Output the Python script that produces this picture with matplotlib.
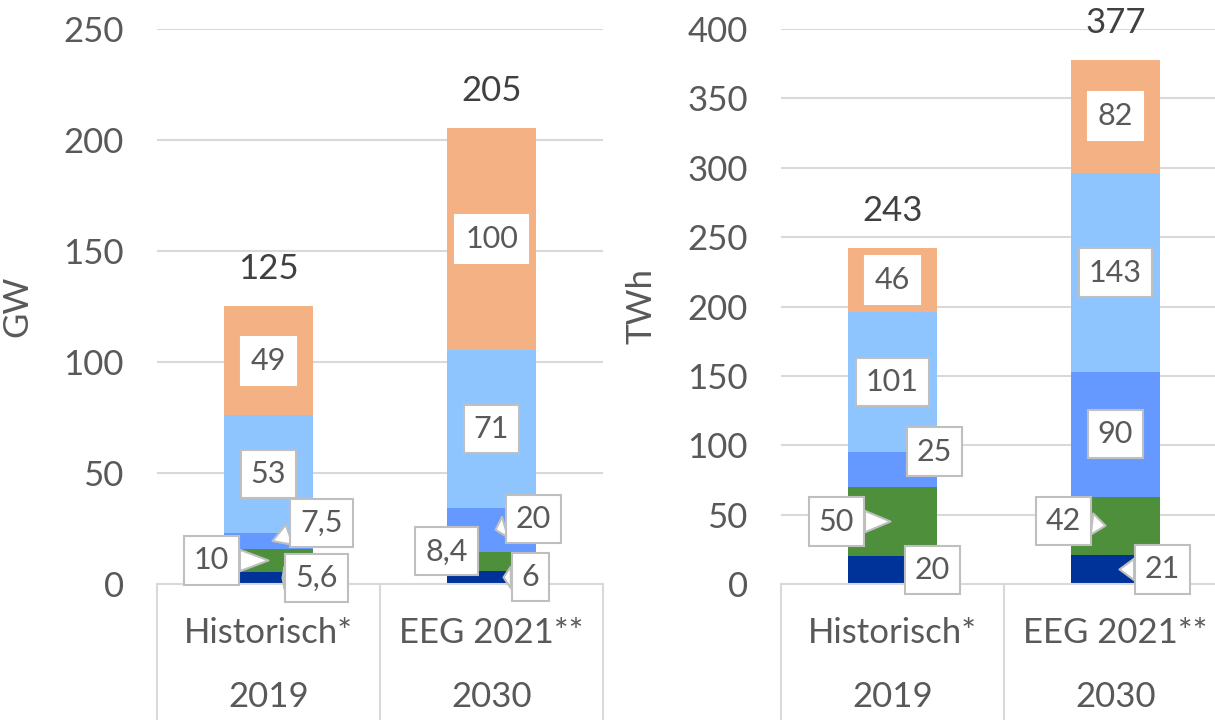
import matplotlib
matplotlib.use("Agg")
import matplotlib.pyplot as plt
import matplotlib.transforms as mtransforms

plt.rcParams['font.family'] = ['Lato', 'DejaVu Sans']

# ---------------- data ----------------
cat_top = ["Historisch*", "EEG 2021**"]
cat_bottom = ["2019", "2030"]

gw_darkblue = [5.6, 6]
gw_green = [10, 8.4]
gw_blue = [7.5, 20]
gw_lightblue = [53, 71]
gw_salmon = [49, 100]
gw_totals = ["125", "205"]
gw_labels = [["5,6", "10", "7,5", "53", "49"],
             ["6", "8,4", "20", "71", "100"]]

twh_darkblue = [20, 21]
twh_green = [50, 42]
twh_blue = [25, 90]
twh_lightblue = [101, 143]
twh_salmon = [46, 82]
twh_totals = ["243", "377"]
twh_labels = [["20", "50", "25", "101", "46"],
              ["21", "42", "90", "143", "82"]]

colors = ["#003399", "#4e8f3c", "#6699ff", "#8ec5ff", "#f4b183"]
box_edges = ["#bfbfbf", "#bfbfbf", "#bfbfbf", "#bfbfbf", "white"]

# callout layout: segment index -> (tip dx px, box dx px, box dy px)
gw_callouts = [
    {0: (14, 48, 0), 1: (0, -57, 0), 2: (4, 53, 18)},
    {0: (12, 39, 0), 1: (-16, -45, 10), 2: (4, 42, 11)},
]
twh_callouts = [
    {0: (21, 40, 0), 1: (-2, -56, 0), 2: (14, 42, 18)},
    {0: (4, 47, 0), 1: (-10, -52, 5)},
]

TXT = "#595959"
GRID = "#d9d9d9"
PX = 72 / 100.0  # px -> points

fig = plt.figure(figsize=(12.15, 7.2), dpi=100)
axL = fig.add_axes([157 / 1215, 1 - 584 / 720, 446 / 1215, 555 / 720])
axR = fig.add_axes([781 / 1215, 1 - 584 / 720, 446 / 1215, 555 / 720])


def draw(ax, series, labels, totals, callouts, ymax, step, ylabel):
    x = [0, 1]
    bottoms = [0, 0]
    seg_info = []
    for s, col in zip(series, colors):
        ax.bar(x, s, 0.4, bottom=bottoms, color=col, zorder=2, linewidth=0)
        seg_info.append([(b, v) for b, v in zip(bottoms, s)])
        bottoms = [b + v for b, v in zip(bottoms, s)]
    ax.set_xlim(-0.5, 1.5)
    ax.set_ylim(0, ymax)
    ax.set_yticks(range(0, ymax + 1, step))
    ax.grid(axis='y', color=GRID, linewidth=1.5, zorder=0)
    ax.set_axisbelow(True)
    for sp in ["top", "right", "left"]:
        ax.spines[sp].set_visible(False)
    ax.spines["bottom"].set_color(GRID)
    ax.spines["bottom"].set_linewidth(1.5)
    ax.tick_params(axis='y', length=0, pad=24, labelsize=25, labelcolor=TXT)
    ax.tick_params(axis='x', length=0, labelbottom=False)
    ax.set_ylabel(ylabel, fontsize=25, color=TXT)
    ax.yaxis.set_label_coords(-0.278, 0.5)

    # category table
    tr = mtransforms.blended_transform_factory(ax.transData, ax.transAxes)
    for xv in [-0.5, 0.5, 1.5]:
        ax.plot([xv, xv], [0, -0.3], transform=tr, color=GRID, lw=1.5,
                clip_on=False, zorder=1)
    for i in range(2):
        ax.text(i, -0.088, cat_top[i], transform=tr, ha='center', va='center',
                fontsize=25, color=TXT)
        ax.text(i, -0.204, cat_bottom[i], transform=tr, ha='center', va='center',
                fontsize=25, color=TXT)

    for i in range(2):
        for k in range(5):
            b, v = seg_info[k][i]
            yc = b + v / 2
            lab = labels[i][k]
            bbox = dict(boxstyle="square,pad=0.33", fc="white", ec=box_edges[k], lw=1.5)
            if k in callouts[i]:
                tipdx, bdx, bdy = callouts[i][k]
                trans_tip = ax.transData + mtransforms.ScaledTranslation(
                    tipdx * PX / 72, 0, fig.dpi_scale_trans)
                tip_disp = trans_tip.transform((i, yc))
                tip_data = ax.transData.inverted().transform(tip_disp)
                ax.annotate(lab, xy=tip_data, xytext=((bdx - tipdx) * PX, bdy * PX),
                            textcoords='offset points', ha='center', va='center',
                            fontsize=22, color=TXT, bbox=bbox, zorder=5,
                            arrowprops=dict(arrowstyle="wedge,tail_width=0.7,shrink_factor=0.5",
                                            fc="white", ec="#bfbfbf", lw=1.5,
                                            shrinkA=0, shrinkB=0))
            else:
                ax.text(i, yc, lab, ha='center', va='center', fontsize=22,
                        color=TXT, bbox=bbox, zorder=5)
        ax.annotate(totals[i], xy=(i, bottoms[i]), xytext=(0, 37 * PX),
                    textcoords='offset points', ha='center', va='center',
                    fontsize=25, color="#404040")


draw(axL, [gw_darkblue, gw_green, gw_blue, gw_lightblue, gw_salmon],
     gw_labels, gw_totals, gw_callouts, 250, 50, "GW")
draw(axR, [twh_darkblue, twh_green, twh_blue, twh_lightblue, twh_salmon],
     twh_labels, twh_totals, twh_callouts, 400, 50, "TWh")

fig.savefig("out.png", dpi=100)
